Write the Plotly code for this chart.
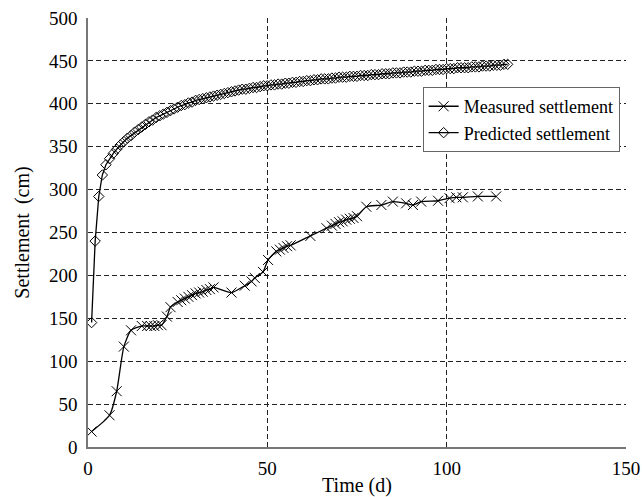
import plotly.graph_objects as go

# Measured settlement (time in days, settlement in cm)
t_measured = [1, 6, 8, 10, 12, 15, 16.5, 17.5, 18.5, 19.5, 20.5, 22, 23, 25, 26, 27,
              28, 29, 30, 31, 32, 33, 34, 35, 40, 43.7, 45.6, 46.5, 48.8, 50.2, 52.5,
              53.5, 54.5, 55.5, 56.5, 62, 66.5, 68, 69, 70, 71, 72, 73, 74, 75, 77.6,
              81.8, 85, 88.7, 90.6, 92.9, 97.6, 100.8, 102.7, 104.5, 108.7, 113.8]
s_measured = [18, 37, 65, 117, 136, 141, 141, 141, 141, 142, 142, 152, 163, 169, 171, 173,
              175, 177, 179, 180, 181, 183, 184, 186, 180, 188, 193, 197, 204, 218, 228,
              230, 232, 234, 235, 246, 255, 258, 260, 262, 263, 265, 266, 267, 269, 280,
              282, 286, 284, 282, 286, 287, 290, 291, 291, 292, 292]

# Predicted settlement, one value per day
t_predicted = list(range(1, 118))
s_predicted = [145, 240, 292, 317, 329, 336, 342, 347, 352, 356,
               360, 363, 367, 370, 373, 376, 379, 381, 384, 386,
               388, 390, 392, 394, 396, 398, 399, 401, 402, 404,
               405, 406, 407, 408, 409, 410, 411, 412, 413, 414,
               415, 416, 417, 417, 418, 419, 419, 420, 421, 421,
               422, 422, 423, 423, 424, 424, 425, 425, 426, 426,
               427, 427, 428, 428, 429, 429, 429, 430, 430, 431,
               431, 431, 432, 432, 432, 433, 433, 433, 434, 434,
               434, 435, 435, 435, 436, 436, 436, 437, 437, 437,
               438, 438, 438, 439, 439, 439, 440, 440, 440, 441,
               441, 441, 442, 442, 442, 442, 443, 443, 443, 444,
               444, 444, 445, 445, 445, 446, 446]

x_ticks = [0, 50, 100, 150]
y_ticks = [0, 50, 100, 150, 200, 250, 300, 350, 400, 450, 500]

FONT = "Liberation Serif, Times New Roman, serif"

fig = go.Figure()
fig.add_trace(go.Scatter(
    x=t_measured, y=s_measured, name="Measured settlement",
    mode="lines+markers",
    line=dict(color="black", width=1.3, shape="spline", smoothing=0.6),
    marker=dict(symbol="x-thin-open", size=10, color="black",
                line=dict(color="black", width=1)),
))
fig.add_trace(go.Scatter(
    x=t_predicted, y=s_predicted, name="Predicted settlement",
    mode="lines+markers",
    line=dict(color="black", width=1.3),
    marker=dict(symbol="diamond-open", size=8, color="black",
                line=dict(color="black", width=1)),
))

axis_common = dict(
    showline=True, linecolor="#777777", linewidth=1.5, mirror=False,
    showgrid=True, gridcolor="#222222", griddash="5px,3px", gridwidth=1,
    ticks="", zeroline=False, automargin=False,
    tickfont=dict(family=FONT, size=19, color="black"),
)

fig.update_layout(
    width=642, height=497,
    margin=dict(l=88, r=16, t=18, b=50),
    plot_bgcolor="white", paper_bgcolor="white",
    font=dict(family=FONT, color="black"),
    showlegend=True,
    legend=dict(
        x=0.622, y=0.839, xanchor="left", yanchor="top",
        bgcolor="white", bordercolor="#666666", borderwidth=1,
        font=dict(family=FONT, size=18, color="black"),
        tracegroupgap=0, itemwidth=30,
    ),
    xaxis=dict(axis_common, range=[0, 150], tickvals=x_ticks, ticklabelstandoff=3,
               title=dict(text="Time (d)", font=dict(family=FONT, size=20), standoff=14)),
    yaxis=dict(axis_common, range=[0, 500], tickvals=y_ticks, ticklabelstandoff=5,
               title=dict(text="Settlement\u00a0\u2009(cm)", font=dict(family=FONT, size=20),
                          standoff=14)),
)

fig.write_html("out.html")
